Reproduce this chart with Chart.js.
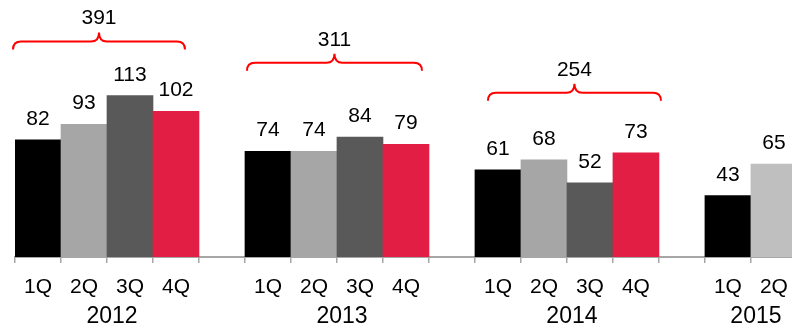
<!DOCTYPE html>
<html>
<head>
<meta charset="utf-8">
<script src="https://cdn.jsdelivr.net/npm/chart.js@4/dist/chart.umd.min.js"></script>
<style>
  html, body { margin: 0; padding: 0; background: #fff; overflow: hidden; }
  #wrap { width: 800px; height: 332px; }
</style>
</head>
<body>
<div id="wrap"><canvas id="salesChart" width="800" height="332"></canvas></div>
<script>
// quarterly figures per year
const years = ["2012", "2013", "2014", "2015"];
const quarters = ["1Q", "2Q", "3Q", "4Q"];
const sales2012 = [82, 93, 113, 102];
const sales2013 = [74, 74, 84, 79];
const sales2014 = [61, 68, 52, 73];
const sales2015 = [43, 65];
// yearly totals shown above the braces, and the value level each brace sits at
const yearTotals = [391, 311, 254];
const braceLevels = [151, 136, 115];

const quarterColors = ["#000000", "#a6a6a6", "#595959", "#e21e45"];
const latestColor = "#bfbfbf";
const FONT = "'Liberation Sans', Arial, sans-serif";
// how far each brace starts/ends inside its group of bars (px)
const braceInsets = [[-2, 14], [2, 7], [13, -2]];

// flatten the years into one category axis with an empty slot between years
const labels = [];
const values = [];
const colors = [];
const groups = [];
[sales2012, sales2013, sales2014, sales2015].forEach((vals, y) => {
    if (y > 0) { labels.push(""); values.push(null); colors.push("rgba(0,0,0,0)"); }
    const start = labels.length;
    vals.forEach((v, q) => {
        labels.push(quarters[q]);
        values.push(v);
        const isLatest = y === 3 && q === vals.length - 1 && q > 0;
        colors.push(isLatest ? latestColor : quarterColors[q]);
    });
    groups.push({ start, end: labels.length - 1 });
});

const overlay = {
    id: "overlay",
    afterDatasetsDraw(chart) {
        const ctx = chart.ctx;
        const meta = chart.getDatasetMeta(0);
        const x = chart.scales.x;
        const yS = chart.scales.y;
        ctx.save();
        ctx.fillStyle = "#000";
        ctx.textAlign = "center";

        // value above every bar
        ctx.font = "21px " + FONT;
        ctx.textBaseline = "alphabetic";
        meta.data.forEach((bar, i) => {
            if (values[i] == null) return;
            ctx.fillText(String(values[i]), bar.x, bar.y - 15);
        });

        // year under each group
        ctx.font = "23px " + FONT;
        ctx.textBaseline = "middle";
        groups.forEach((g, i) => {
            const cx = (x.getPixelForValue(g.start) + x.getPixelForValue(g.end)) / 2 + 5;
            ctx.fillText(years[i], cx, 317);
        });

        // braces with yearly totals
        ctx.strokeStyle = "#ff0000";
        ctx.lineWidth = 2;
        yearTotals.forEach((total, i) => {
            const g = groups[i];
            const first = meta.data[g.start];
            const last = meta.data[g.end];
            const x0 = first.x - first.width / 2 + braceInsets[i][0];
            const x1 = last.x + last.width / 2 - braceInsets[i][1];
            const xc = (x0 + x1) / 2;
            const yl = yS.getPixelForValue(braceLevels[i]);
            const r = 8;
            ctx.beginPath();
            ctx.moveTo(x0, yl + 8);
            ctx.quadraticCurveTo(x0, yl, x0 + r, yl);
            ctx.lineTo(xc - r, yl);
            ctx.quadraticCurveTo(xc, yl, xc, yl - 9);
            ctx.quadraticCurveTo(xc, yl, xc + r, yl);
            ctx.lineTo(x1 - r, yl);
            ctx.quadraticCurveTo(x1, yl, x1, yl + 8);
            ctx.stroke();

            ctx.font = "21px " + FONT;
            ctx.textBaseline = "alphabetic";
            ctx.fillText(String(total), xc, yl - 17);
        });
        ctx.restore();
    }
};

new Chart(document.getElementById("salesChart"), {
    type: "bar",
    data: {
        labels,
        datasets: [{
            data: values,
            backgroundColor: colors,
            borderWidth: 0,
            barPercentage: 1,
            categoryPercentage: 1
        }]
    },
    options: {
        responsive: false,
        animation: false,
        devicePixelRatio: 1,
        layout: { padding: { left: 15, right: 2, top: 0, bottom: 0 } },
        plugins: { legend: { display: false }, tooltip: { enabled: false } },
        scales: {
            y: { display: false, min: 0, max: 180 },
            x: {
                afterFit(scale) { scale.height = 75; },
                grid: { drawOnChartArea: false, drawTicks: true, tickLength: 6, color: "#a6a6a6", lineWidth: 1.5, offset: true },
                border: { color: "#a6a6a6", width: 2 },
                ticks: {
                    autoSkip: false, maxRotation: 0, padding: 12, color: "#000",
                    font: { family: FONT, size: 21 }
                }
            }
        }
    },
    plugins: [overlay]
});
</script>
</body>
</html>
